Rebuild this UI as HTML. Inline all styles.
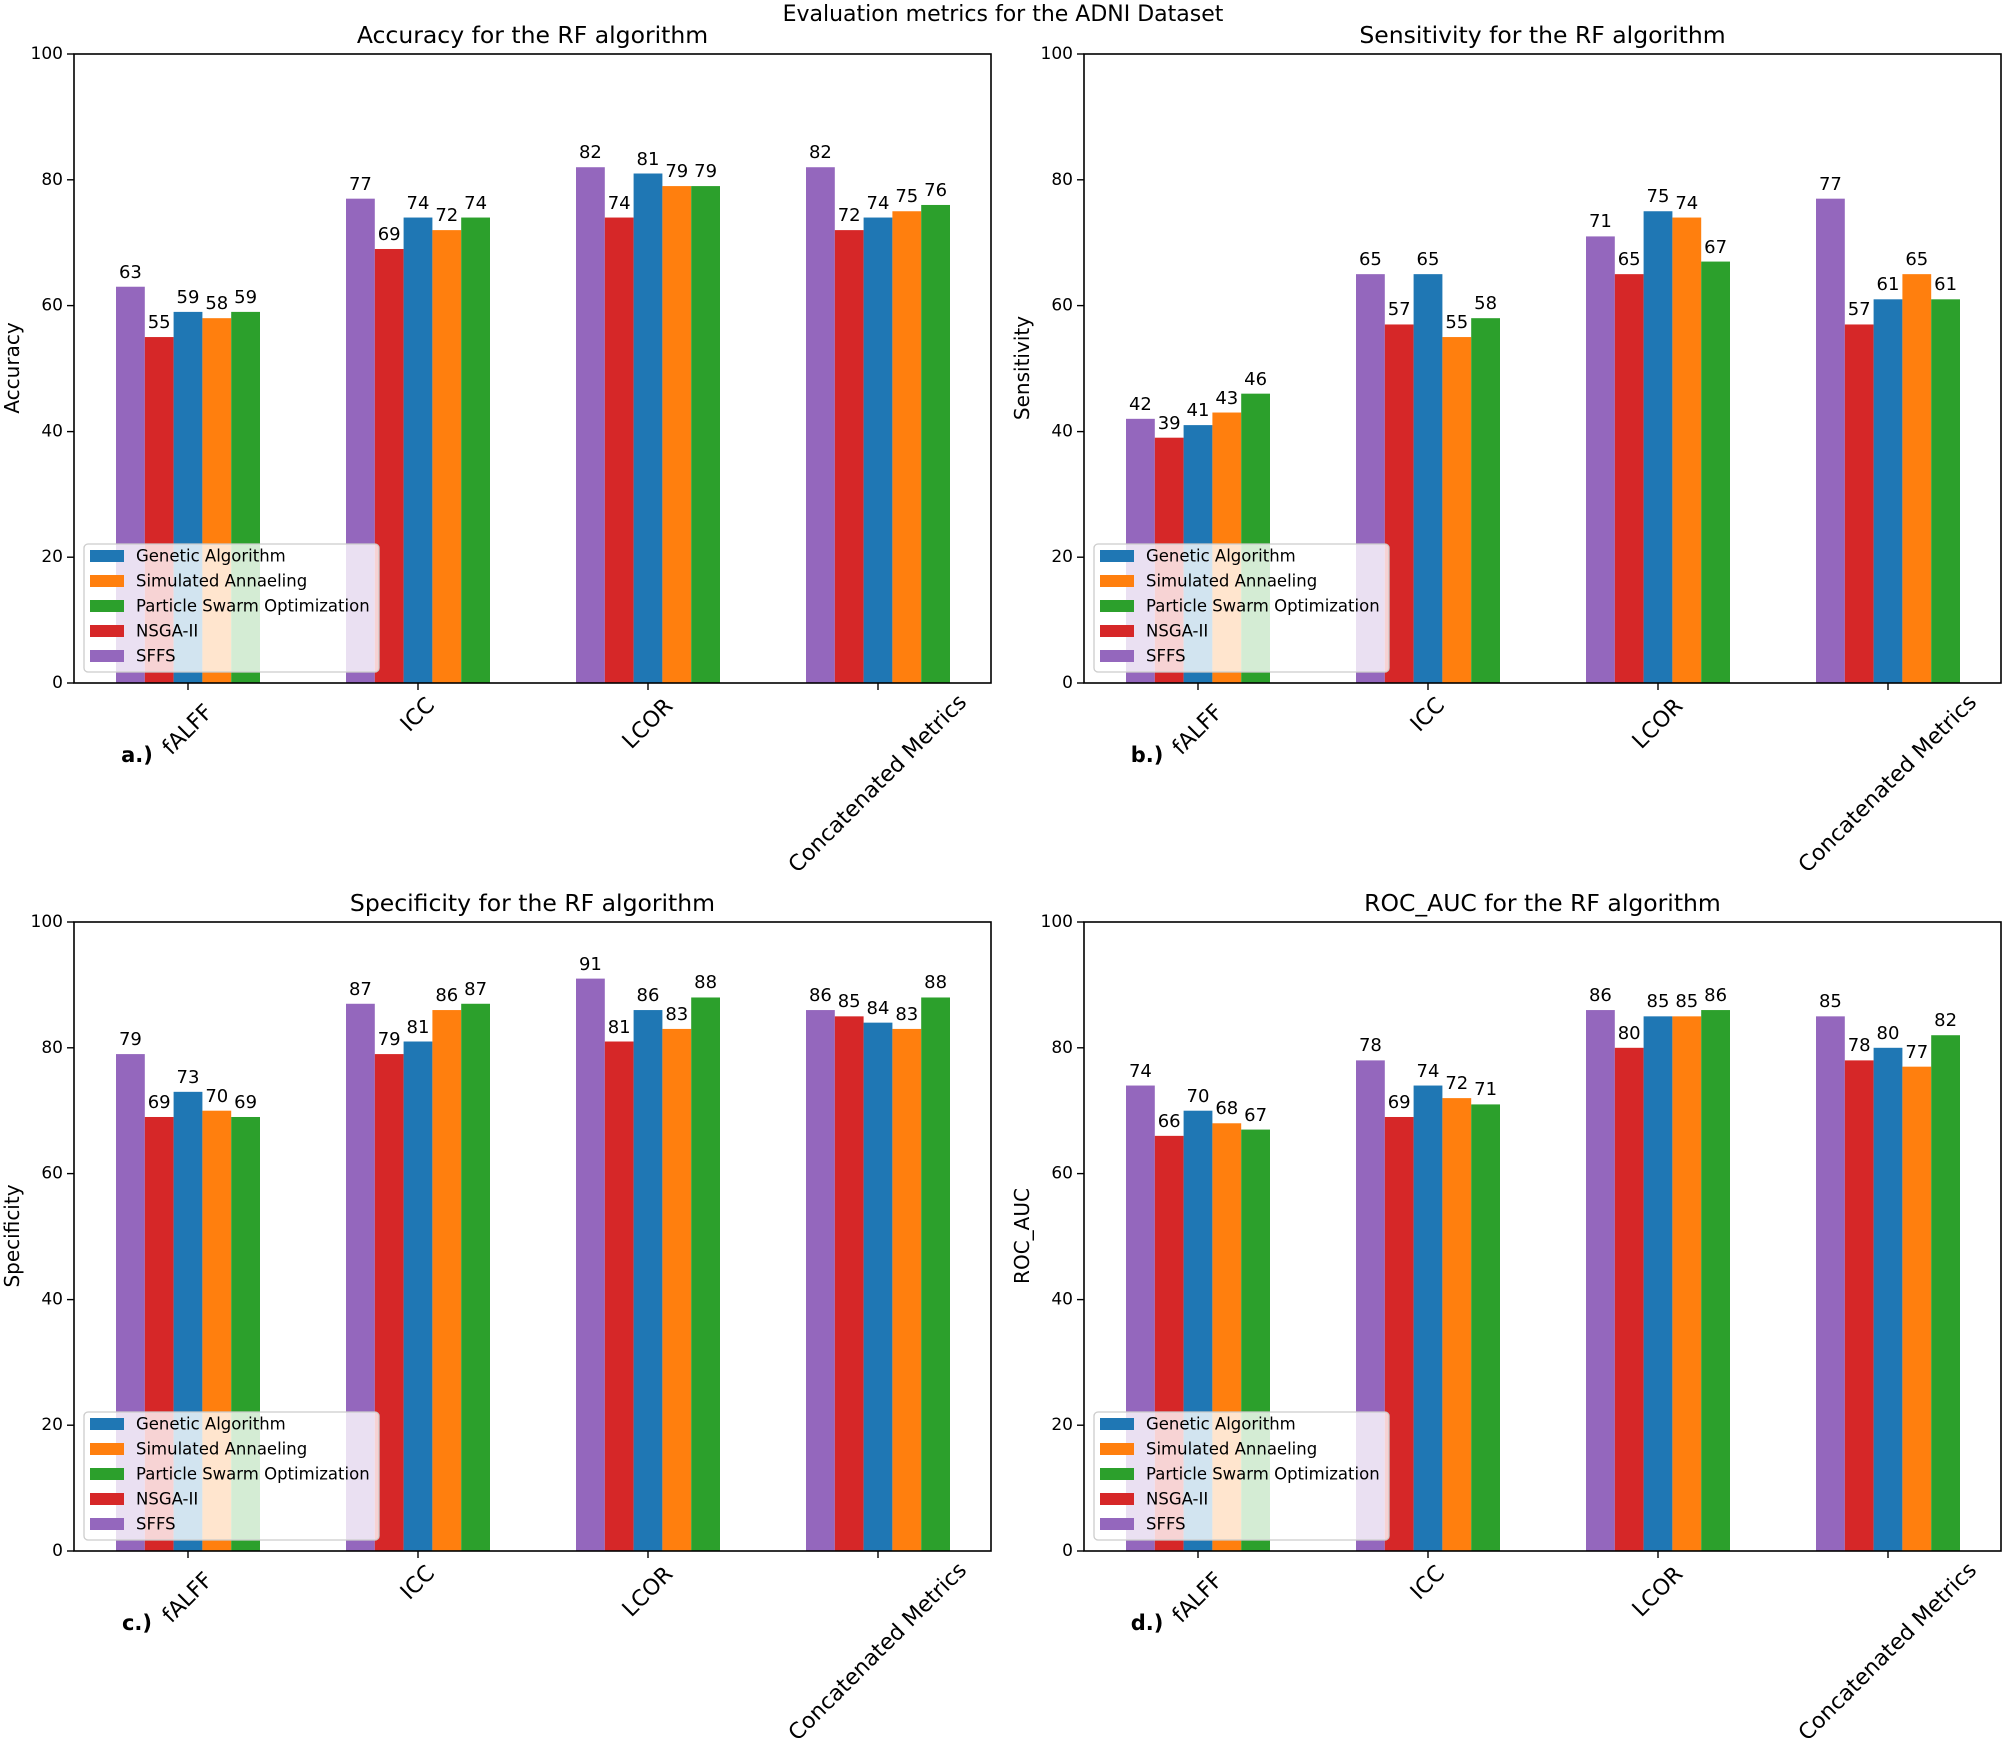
<!DOCTYPE html>
<html><head><meta charset="utf-8"><style>
html,body{margin:0;padding:0;background:#fff;}
svg{display:block;font-family:"DejaVu Sans","Liberation Sans",sans-serif;}
.yt{font-size:17px;text-anchor:end;dominant-baseline:central;fill:#000}
.xt{font-size:22px;text-anchor:middle;dominant-baseline:central;fill:#000}
.v{font-size:18px;text-anchor:middle;fill:#000}
.ti{font-size:23.5px;text-anchor:middle;fill:#000}
.lg{font-size:16.5px;dominant-baseline:central;fill:#000}
.pl{font-size:21px;font-weight:bold;text-anchor:middle;dominant-baseline:central}
</style></head><body>
<svg width="2006" height="1744" viewBox="0 0 2006 1744" xmlns="http://www.w3.org/2000/svg">
<rect width="2006" height="1744" fill="#fff"/>
<text x="1003" y="21" class="ti" style="font-size:22px">Evaluation metrics for the ADNI Dataset</text>

<!-- PANEL A -->
<g transform="translate(74,54)">
<g transform="translate(0,629) scale(1,-6.29)">
<rect x="42" y="0" width="28.8" height="63" fill="#9467bd"/><rect x="70.8" y="0" width="28.8" height="55" fill="#d62728"/><rect x="99.6" y="0" width="28.8" height="59" fill="#1f77b4"/><rect x="128.4" y="0" width="28.8" height="58" fill="#ff7f0e"/><rect x="157.2" y="0" width="28.8" height="59" fill="#2ca02c"/>
<rect x="272" y="0" width="28.8" height="77" fill="#9467bd"/><rect x="300.8" y="0" width="28.8" height="69" fill="#d62728"/><rect x="329.6" y="0" width="28.8" height="74" fill="#1f77b4"/><rect x="358.4" y="0" width="28.8" height="72" fill="#ff7f0e"/><rect x="387.2" y="0" width="28.8" height="74" fill="#2ca02c"/>
<rect x="502" y="0" width="28.8" height="82" fill="#9467bd"/><rect x="530.8" y="0" width="28.8" height="74" fill="#d62728"/><rect x="559.6" y="0" width="28.8" height="81" fill="#1f77b4"/><rect x="588.4" y="0" width="28.8" height="79" fill="#ff7f0e"/><rect x="617.2" y="0" width="28.8" height="79" fill="#2ca02c"/>
<rect x="732" y="0" width="28.8" height="82" fill="#9467bd"/><rect x="760.8" y="0" width="28.8" height="72" fill="#d62728"/><rect x="789.6" y="0" width="28.8" height="74" fill="#1f77b4"/><rect x="818.4" y="0" width="28.8" height="75" fill="#ff7f0e"/><rect x="847.2" y="0" width="28.8" height="76" fill="#2ca02c"/>
</g>
<g transform="translate(0,-3)">
<text class="v" x="56.4" y="227">63</text><text class="v" x="85.2" y="277">55</text><text class="v" x="114" y="252">59</text><text class="v" x="142.8" y="258">58</text><text class="v" x="171.6" y="252">59</text>
<text class="v" x="286.4" y="139">77</text><text class="v" x="315.2" y="189">69</text><text class="v" x="344" y="158">74</text><text class="v" x="372.8" y="170">72</text><text class="v" x="401.6" y="158">74</text>
<text class="v" x="516.4" y="107">82</text><text class="v" x="545.2" y="158">74</text><text class="v" x="574" y="114">81</text><text class="v" x="602.8" y="126">79</text><text class="v" x="631.6" y="126">79</text>
<text class="v" x="746.4" y="107">82</text><text class="v" x="775.2" y="170">72</text><text class="v" x="804" y="158">74</text><text class="v" x="832.8" y="151">75</text><text class="v" x="861.6" y="145">76</text>
</g>
<rect x="0" y="0" width="917" height="629" fill="none" stroke="#000" stroke-width="1.6"/>
<g stroke="#000" stroke-width="1.4"><line x1="-7" x2="0" y1="629" y2="629"/><line x1="-7" x2="0" y1="503.2" y2="503.2"/><line x1="-7" x2="0" y1="377.6" y2="377.6"/><line x1="-7" x2="0" y1="251.6" y2="251.6"/><line x1="-7" x2="0" y1="125.8" y2="125.8"/><line x1="-7" x2="0" y1="0" y2="0"/>
<line x1="114" x2="114" y1="629" y2="636"/><line x1="344" x2="344" y1="629" y2="636"/><line x1="574" x2="574" y1="629" y2="636"/><line x1="804" x2="804" y1="629" y2="636"/></g>
<text class="yt" x="-11" y="629">0</text><text class="yt" x="-11" y="503.2">20</text><text class="yt" x="-11" y="377.6">40</text><text class="yt" x="-11" y="251.6">60</text><text class="yt" x="-11" y="125.8">80</text><text class="yt" x="-11" y="0">100</text>
<text class="xt" transform="translate(114,676) rotate(-45)">fALFF</text><text class="xt" transform="translate(344,661) rotate(-45)">ICC</text><text class="xt" transform="translate(574,670) rotate(-45)">LCOR</text><text class="xt" transform="translate(804,730) rotate(-45)">Concatenated Metrics</text>
<text class="ti" x="458.5" y="-11">Accuracy for the RF algorithm</text>
<text class="ti" style="font-size:20px" transform="translate(-55,314) rotate(-90)">Accuracy</text>
<text class="pl" x="63" y="701">a.)</text>
<rect x="10" y="490" width="295" height="128" rx="4" fill="#fff" fill-opacity="0.8" stroke="#ccc" stroke-width="1.3"/>
<rect x="16" y="496" width="34" height="12" fill="#1f77b4"/><text class="lg" x="62" y="502">Genetic Algorithm</text>
<rect x="16" y="521" width="34" height="12" fill="#ff7f0e"/><text class="lg" x="62" y="527">Simulated Annaeling</text>
<rect x="16" y="546" width="34" height="12" fill="#2ca02c"/><text class="lg" x="62" y="552">Particle Swarm Optimization</text>
<rect x="16" y="571" width="34" height="12" fill="#d62728"/><text class="lg" x="62" y="577">NSGA-II</text>
<rect x="16" y="596" width="34" height="12" fill="#9467bd"/><text class="lg" x="62" y="602">SFFS</text>
</g>

<!-- PANEL B -->
<g transform="translate(1084,54)">
<g transform="translate(0,629) scale(1,-6.29)">
<rect x="42" y="0" width="28.8" height="42" fill="#9467bd"/><rect x="70.8" y="0" width="28.8" height="39" fill="#d62728"/><rect x="99.6" y="0" width="28.8" height="41" fill="#1f77b4"/><rect x="128.4" y="0" width="28.8" height="43" fill="#ff7f0e"/><rect x="157.2" y="0" width="28.8" height="46" fill="#2ca02c"/>
<rect x="272" y="0" width="28.8" height="65" fill="#9467bd"/><rect x="300.8" y="0" width="28.8" height="57" fill="#d62728"/><rect x="329.6" y="0" width="28.8" height="65" fill="#1f77b4"/><rect x="358.4" y="0" width="28.8" height="55" fill="#ff7f0e"/><rect x="387.2" y="0" width="28.8" height="58" fill="#2ca02c"/>
<rect x="502" y="0" width="28.8" height="71" fill="#9467bd"/><rect x="530.8" y="0" width="28.8" height="65" fill="#d62728"/><rect x="559.6" y="0" width="28.8" height="75" fill="#1f77b4"/><rect x="588.4" y="0" width="28.8" height="74" fill="#ff7f0e"/><rect x="617.2" y="0" width="28.8" height="67" fill="#2ca02c"/>
<rect x="732" y="0" width="28.8" height="77" fill="#9467bd"/><rect x="760.8" y="0" width="28.8" height="57" fill="#d62728"/><rect x="789.6" y="0" width="28.8" height="61" fill="#1f77b4"/><rect x="818.4" y="0" width="28.8" height="65" fill="#ff7f0e"/><rect x="847.2" y="0" width="28.8" height="61" fill="#2ca02c"/>
</g>
<g transform="translate(0,-3)">
<text class="v" x="56.4" y="359">42</text><text class="v" x="85.2" y="378">39</text><text class="v" x="114" y="365">41</text><text class="v" x="142.8" y="353">43</text><text class="v" x="171.6" y="334">46</text>
<text class="v" x="286.4" y="214">65</text><text class="v" x="315.2" y="264">57</text><text class="v" x="344" y="214">65</text><text class="v" x="372.8" y="277">55</text><text class="v" x="401.6" y="258">58</text>
<text class="v" x="516.4" y="176">71</text><text class="v" x="545.2" y="214">65</text><text class="v" x="574" y="151">75</text><text class="v" x="602.8" y="158">74</text><text class="v" x="631.6" y="202">67</text>
<text class="v" x="746.4" y="139">77</text><text class="v" x="775.2" y="264">57</text><text class="v" x="804" y="239">61</text><text class="v" x="832.8" y="214">65</text><text class="v" x="861.6" y="239">61</text>
</g>
<rect x="0" y="0" width="917" height="629" fill="none" stroke="#000" stroke-width="1.6"/>
<g stroke="#000" stroke-width="1.4"><line x1="-7" x2="0" y1="629" y2="629"/><line x1="-7" x2="0" y1="503.2" y2="503.2"/><line x1="-7" x2="0" y1="377.6" y2="377.6"/><line x1="-7" x2="0" y1="251.6" y2="251.6"/><line x1="-7" x2="0" y1="125.8" y2="125.8"/><line x1="-7" x2="0" y1="0" y2="0"/>
<line x1="114" x2="114" y1="629" y2="636"/><line x1="344" x2="344" y1="629" y2="636"/><line x1="574" x2="574" y1="629" y2="636"/><line x1="804" x2="804" y1="629" y2="636"/></g>
<text class="yt" x="-11" y="629">0</text><text class="yt" x="-11" y="503.2">20</text><text class="yt" x="-11" y="377.6">40</text><text class="yt" x="-11" y="251.6">60</text><text class="yt" x="-11" y="125.8">80</text><text class="yt" x="-11" y="0">100</text>
<text class="xt" transform="translate(114,676) rotate(-45)">fALFF</text><text class="xt" transform="translate(344,661) rotate(-45)">ICC</text><text class="xt" transform="translate(574,670) rotate(-45)">LCOR</text><text class="xt" transform="translate(804,730) rotate(-45)">Concatenated Metrics</text>
<text class="ti" x="458.5" y="-11">Sensitivity for the RF algorithm</text>
<text class="ti" style="font-size:20px" transform="translate(-55,314) rotate(-90)">Sensitivity</text>
<text class="pl" x="63" y="701">b.)</text>
<rect x="10" y="490" width="295" height="128" rx="4" fill="#fff" fill-opacity="0.8" stroke="#ccc" stroke-width="1.3"/>
<rect x="16" y="496" width="34" height="12" fill="#1f77b4"/><text class="lg" x="62" y="502">Genetic Algorithm</text>
<rect x="16" y="521" width="34" height="12" fill="#ff7f0e"/><text class="lg" x="62" y="527">Simulated Annaeling</text>
<rect x="16" y="546" width="34" height="12" fill="#2ca02c"/><text class="lg" x="62" y="552">Particle Swarm Optimization</text>
<rect x="16" y="571" width="34" height="12" fill="#d62728"/><text class="lg" x="62" y="577">NSGA-II</text>
<rect x="16" y="596" width="34" height="12" fill="#9467bd"/><text class="lg" x="62" y="602">SFFS</text>
</g>

<!-- PANEL C -->
<g transform="translate(74,922)">
<g transform="translate(0,629) scale(1,-6.29)">
<rect x="42" y="0" width="28.8" height="79" fill="#9467bd"/><rect x="70.8" y="0" width="28.8" height="69" fill="#d62728"/><rect x="99.6" y="0" width="28.8" height="73" fill="#1f77b4"/><rect x="128.4" y="0" width="28.8" height="70" fill="#ff7f0e"/><rect x="157.2" y="0" width="28.8" height="69" fill="#2ca02c"/>
<rect x="272" y="0" width="28.8" height="87" fill="#9467bd"/><rect x="300.8" y="0" width="28.8" height="79" fill="#d62728"/><rect x="329.6" y="0" width="28.8" height="81" fill="#1f77b4"/><rect x="358.4" y="0" width="28.8" height="86" fill="#ff7f0e"/><rect x="387.2" y="0" width="28.8" height="87" fill="#2ca02c"/>
<rect x="502" y="0" width="28.8" height="91" fill="#9467bd"/><rect x="530.8" y="0" width="28.8" height="81" fill="#d62728"/><rect x="559.6" y="0" width="28.8" height="86" fill="#1f77b4"/><rect x="588.4" y="0" width="28.8" height="83" fill="#ff7f0e"/><rect x="617.2" y="0" width="28.8" height="88" fill="#2ca02c"/>
<rect x="732" y="0" width="28.8" height="86" fill="#9467bd"/><rect x="760.8" y="0" width="28.8" height="85" fill="#d62728"/><rect x="789.6" y="0" width="28.8" height="84" fill="#1f77b4"/><rect x="818.4" y="0" width="28.8" height="83" fill="#ff7f0e"/><rect x="847.2" y="0" width="28.8" height="88" fill="#2ca02c"/>
</g>
<g transform="translate(0,-3)">
<text class="v" x="56.4" y="126">79</text><text class="v" x="85.2" y="189">69</text><text class="v" x="114" y="164">73</text><text class="v" x="142.8" y="183">70</text><text class="v" x="171.6" y="189">69</text>
<text class="v" x="286.4" y="76">87</text><text class="v" x="315.2" y="126">79</text><text class="v" x="344" y="114">81</text><text class="v" x="372.8" y="82">86</text><text class="v" x="401.6" y="76">87</text>
<text class="v" x="516.4" y="51">91</text><text class="v" x="545.2" y="114">81</text><text class="v" x="574" y="82">86</text><text class="v" x="602.8" y="101">83</text><text class="v" x="631.6" y="69">88</text>
<text class="v" x="746.4" y="82">86</text><text class="v" x="775.2" y="88">85</text><text class="v" x="804" y="95">84</text><text class="v" x="832.8" y="101">83</text><text class="v" x="861.6" y="69">88</text>
</g>
<rect x="0" y="0" width="917" height="629" fill="none" stroke="#000" stroke-width="1.6"/>
<g stroke="#000" stroke-width="1.4"><line x1="-7" x2="0" y1="629" y2="629"/><line x1="-7" x2="0" y1="503.2" y2="503.2"/><line x1="-7" x2="0" y1="377.6" y2="377.6"/><line x1="-7" x2="0" y1="251.6" y2="251.6"/><line x1="-7" x2="0" y1="125.8" y2="125.8"/><line x1="-7" x2="0" y1="0" y2="0"/>
<line x1="114" x2="114" y1="629" y2="636"/><line x1="344" x2="344" y1="629" y2="636"/><line x1="574" x2="574" y1="629" y2="636"/><line x1="804" x2="804" y1="629" y2="636"/></g>
<text class="yt" x="-11" y="629">0</text><text class="yt" x="-11" y="503.2">20</text><text class="yt" x="-11" y="377.6">40</text><text class="yt" x="-11" y="251.6">60</text><text class="yt" x="-11" y="125.8">80</text><text class="yt" x="-11" y="0">100</text>
<text class="xt" transform="translate(114,676) rotate(-45)">fALFF</text><text class="xt" transform="translate(344,661) rotate(-45)">ICC</text><text class="xt" transform="translate(574,670) rotate(-45)">LCOR</text><text class="xt" transform="translate(804,730) rotate(-45)">Concatenated Metrics</text>
<text class="ti" x="458.5" y="-11">Specificity for the RF algorithm</text>
<text class="ti" style="font-size:20px" transform="translate(-55,314) rotate(-90)">Specificity</text>
<text class="pl" x="63" y="701">c.)</text>
<rect x="10" y="490" width="295" height="128" rx="4" fill="#fff" fill-opacity="0.8" stroke="#ccc" stroke-width="1.3"/>
<rect x="16" y="496" width="34" height="12" fill="#1f77b4"/><text class="lg" x="62" y="502">Genetic Algorithm</text>
<rect x="16" y="521" width="34" height="12" fill="#ff7f0e"/><text class="lg" x="62" y="527">Simulated Annaeling</text>
<rect x="16" y="546" width="34" height="12" fill="#2ca02c"/><text class="lg" x="62" y="552">Particle Swarm Optimization</text>
<rect x="16" y="571" width="34" height="12" fill="#d62728"/><text class="lg" x="62" y="577">NSGA-II</text>
<rect x="16" y="596" width="34" height="12" fill="#9467bd"/><text class="lg" x="62" y="602">SFFS</text>
</g>

<!-- PANEL D -->
<g transform="translate(1084,922)">
<g transform="translate(0,629) scale(1,-6.29)">
<rect x="42" y="0" width="28.8" height="74" fill="#9467bd"/><rect x="70.8" y="0" width="28.8" height="66" fill="#d62728"/><rect x="99.6" y="0" width="28.8" height="70" fill="#1f77b4"/><rect x="128.4" y="0" width="28.8" height="68" fill="#ff7f0e"/><rect x="157.2" y="0" width="28.8" height="67" fill="#2ca02c"/>
<rect x="272" y="0" width="28.8" height="78" fill="#9467bd"/><rect x="300.8" y="0" width="28.8" height="69" fill="#d62728"/><rect x="329.6" y="0" width="28.8" height="74" fill="#1f77b4"/><rect x="358.4" y="0" width="28.8" height="72" fill="#ff7f0e"/><rect x="387.2" y="0" width="28.8" height="71" fill="#2ca02c"/>
<rect x="502" y="0" width="28.8" height="86" fill="#9467bd"/><rect x="530.8" y="0" width="28.8" height="80" fill="#d62728"/><rect x="559.6" y="0" width="28.8" height="85" fill="#1f77b4"/><rect x="588.4" y="0" width="28.8" height="85" fill="#ff7f0e"/><rect x="617.2" y="0" width="28.8" height="86" fill="#2ca02c"/>
<rect x="732" y="0" width="28.8" height="85" fill="#9467bd"/><rect x="760.8" y="0" width="28.8" height="78" fill="#d62728"/><rect x="789.6" y="0" width="28.8" height="80" fill="#1f77b4"/><rect x="818.4" y="0" width="28.8" height="77" fill="#ff7f0e"/><rect x="847.2" y="0" width="28.8" height="82" fill="#2ca02c"/>
</g>
<g transform="translate(0,-3)">
<text class="v" x="56.4" y="158">74</text><text class="v" x="85.2" y="208">66</text><text class="v" x="114" y="183">70</text><text class="v" x="142.8" y="195">68</text><text class="v" x="171.6" y="202">67</text>
<text class="v" x="286.4" y="132">78</text><text class="v" x="315.2" y="189">69</text><text class="v" x="344" y="158">74</text><text class="v" x="372.8" y="170">72</text><text class="v" x="401.6" y="176">71</text>
<text class="v" x="516.4" y="82">86</text><text class="v" x="545.2" y="120">80</text><text class="v" x="574" y="88">85</text><text class="v" x="602.8" y="88">85</text><text class="v" x="631.6" y="82">86</text>
<text class="v" x="746.4" y="88">85</text><text class="v" x="775.2" y="132">78</text><text class="v" x="804" y="120">80</text><text class="v" x="832.8" y="139">77</text><text class="v" x="861.6" y="107">82</text>
</g>
<rect x="0" y="0" width="917" height="629" fill="none" stroke="#000" stroke-width="1.6"/>
<g stroke="#000" stroke-width="1.4"><line x1="-7" x2="0" y1="629" y2="629"/><line x1="-7" x2="0" y1="503.2" y2="503.2"/><line x1="-7" x2="0" y1="377.6" y2="377.6"/><line x1="-7" x2="0" y1="251.6" y2="251.6"/><line x1="-7" x2="0" y1="125.8" y2="125.8"/><line x1="-7" x2="0" y1="0" y2="0"/>
<line x1="114" x2="114" y1="629" y2="636"/><line x1="344" x2="344" y1="629" y2="636"/><line x1="574" x2="574" y1="629" y2="636"/><line x1="804" x2="804" y1="629" y2="636"/></g>
<text class="yt" x="-11" y="629">0</text><text class="yt" x="-11" y="503.2">20</text><text class="yt" x="-11" y="377.6">40</text><text class="yt" x="-11" y="251.6">60</text><text class="yt" x="-11" y="125.8">80</text><text class="yt" x="-11" y="0">100</text>
<text class="xt" transform="translate(114,676) rotate(-45)">fALFF</text><text class="xt" transform="translate(344,661) rotate(-45)">ICC</text><text class="xt" transform="translate(574,670) rotate(-45)">LCOR</text><text class="xt" transform="translate(804,730) rotate(-45)">Concatenated Metrics</text>
<text class="ti" x="458.5" y="-11">ROC_AUC for the RF algorithm</text>
<text class="ti" style="font-size:20px" transform="translate(-55,314) rotate(-90)">ROC_AUC</text>
<text class="pl" x="63" y="701">d.)</text>
<rect x="10" y="490" width="295" height="128" rx="4" fill="#fff" fill-opacity="0.8" stroke="#ccc" stroke-width="1.3"/>
<rect x="16" y="496" width="34" height="12" fill="#1f77b4"/><text class="lg" x="62" y="502">Genetic Algorithm</text>
<rect x="16" y="521" width="34" height="12" fill="#ff7f0e"/><text class="lg" x="62" y="527">Simulated Annaeling</text>
<rect x="16" y="546" width="34" height="12" fill="#2ca02c"/><text class="lg" x="62" y="552">Particle Swarm Optimization</text>
<rect x="16" y="571" width="34" height="12" fill="#d62728"/><text class="lg" x="62" y="577">NSGA-II</text>
<rect x="16" y="596" width="34" height="12" fill="#9467bd"/><text class="lg" x="62" y="602">SFFS</text>
</g>
</svg>
</body></html>
